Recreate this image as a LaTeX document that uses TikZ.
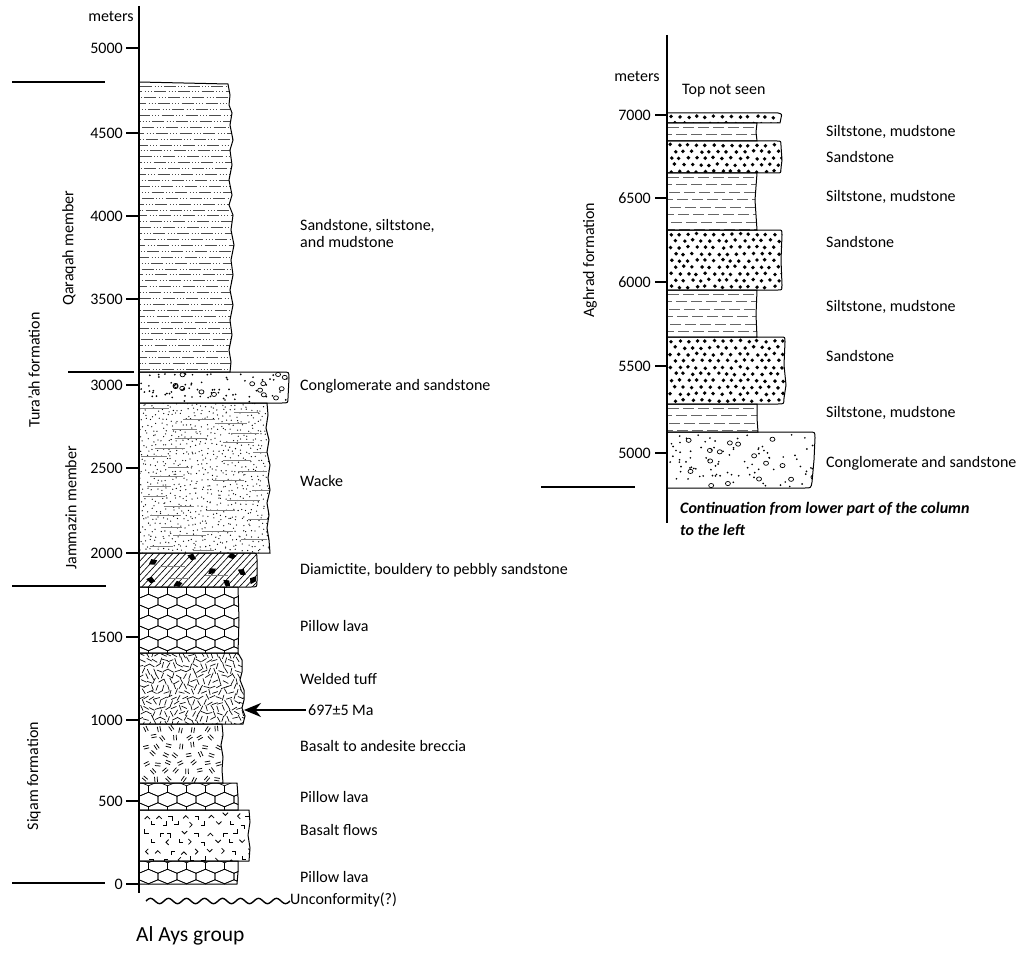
\documentclass[tikz,border=0pt]{standalone}
\usepackage{fontspec}
\setmainfont{Carlito}
\usetikzlibrary{arrows.meta}
\newcommand\pillowpat[4]{% x0, y0, ncols, nrows
 \foreach \j in {0,...,#4}{
   \pgfmathsetmacro\cy{#2+\j*10.5}
   \pgfmathsetmacro\off{mod(\j,2)*9.5}
   \foreach \i in {-1,...,#3}{
     \pgfmathsetmacro\cx{#1+\i*19+\off}
     \draw[pat] (\cx,\cy-7.25) -- (\cx+9.5,\cy-3.25) -- (\cx+9.5,\cy+3.25) -- (\cx,\cy+7.25) -- (\cx-9.5,\cy+3.25) -- (\cx-9.5,\cy-3.25) -- cycle;
   }}}
\newcommand\bolddots[4]{% x0,y0,nx,ny
 \foreach \j in {0,...,#4}{\foreach \i in {0,...,#3}{
   \pgfmathsetmacro\px{#1+\i*8.6+mod(\j,2)*4.3+(rnd-0.5)*2.2}
   \pgfmathsetmacro\py{#2+\j*6.6+(rnd-0.5)*1.8}
   \fill (\px,\py) circle[radius=1.95];
 }}}
\newcommand\siltlines[2]{% y0, nrows
 \foreach \j in {0,...,#2}{
   \pgfmathsetmacro\py{#1+\j*7.5}
   \pgfmathsetmacro\ph{mod(\j*7,15)}
   \draw[gray!80!black, line width=0.8pt, dash pattern=on 11pt off 4pt, dash phase=\ph pt] (668,\py) -- (762,\py);
 }}
\newcommand\congl[6]{% x0,y0,w,h,ndots,ncirc
 \foreach \k in {1,...,#5}{
   \pgfmathsetmacro\px{#1+rnd*#3}
   \pgfmathsetmacro\py{#2+rnd*#4}
   \fill (\px,\py) circle[radius=0.95];
 }
 \foreach \k in {1,...,#6}{
   \pgfmathsetmacro\px{#1+rnd*#3}
   \pgfmathsetmacro\py{#2+rnd*#4}
   \draw[line width=0.7pt] (\px,\py) ellipse[x radius=2.5, y radius=2.1];
 }}
\newcommand\blob[3]{\fill[shift={(#1,#2)},rotate=#3] (-4.8,0) -- (0,-3.4) -- (4.5,0.6) -- (0.3,3.2) -- cycle;}
\begin{document}
\begin{tikzpicture}[x=1pt,y=-1pt,
  axisline/.style={line width=2pt},
  tickmark/.style={line width=1.8pt},
  divline/.style={line width=1.5pt},
  layer/.style={line width=1pt},
  pat/.style={line width=0.65pt},
  lbl/.style={anchor=west,inner sep=0pt,font=\fontsize{16}{18}\selectfont},
  ticklbl/.style={anchor=east,inner sep=0pt,font=\fontsize{16}{18}\selectfont},
  vlbl/.style={rotate=90,inner sep=0pt,font=\fontsize{16}{18}\selectfont},
]
\useasboundingbox (0,0) rectangle (1024,952);
\pgfmathsetseed{4242}

% ---------------- left column layers ----------------
\def\LQ{(139,82) -- (228,84) -- (230,95) -- (229,105) -- (232,113) -- (230,125) -- (233,140) -- (230,150) -- (232,165) -- (229,180) -- (232,195) -- (229,205) -- (233,215) -- (231,230) -- (234,245) -- (231,260) -- (233,275) -- (230,290) -- (233,305) -- (230,320) -- (232,335) -- (229,350) -- (231,362) -- (230,372) -- (139,372) -- cycle}
\def\LC{(139,372) -- (283,372) .. controls (289,372) .. (289,378) -- (288,398) .. controls (288,403) .. (282,403) -- (139,403) -- cycle}
\def\LW{(139,403) -- (267,403) -- (268,415) -- (266,428) -- (269,440) -- (267,452) -- (270,465) -- (268,478) -- (270,490) -- (267,503) -- (269,515) -- (267,528) -- (269,540) -- (270,553) -- (139,553) -- cycle}
\def\LD{(139,553) -- (251,553) .. controls (257,553) .. (257,559) -- (257,581) .. controls (257,587) .. (251,587) -- (139,587) -- cycle}
\def\LPa{(139,587) -- (238,587) -- (239,620) -- (238,653) -- (139,653) -- cycle}
\def\LT{(139,653) -- (238,653) -- (242,660) -- (242,672) -- (240,680) -- (244,690) -- (244,700) -- (242,708) -- (245,716) -- (243,724) -- (139,724) -- cycle}
\def\LB{(139,724) -- (222,724) -- (223,735) -- (221,745) -- (223,757) -- (222,770) -- (223,783) -- (139,783) -- cycle}
\def\LPb{(139,783) -- (237,783) -- (238,797) -- (238,810) -- (139,810) -- cycle}
\def\LF{(139,810) -- (249,810) -- (250,822) -- (248,835) -- (250,848) -- (249,861) -- (139,861) -- cycle}
\def\LPc{(139,861) -- (238,861) -- (238,872) -- (237,884) -- (139,884) -- cycle}

% Qaraqah
\begin{scope}
\clip \LQ;
\foreach \j in {0,...,48}{
  \pgfmathsetmacro\py{86+\j*5.9}
  \pgfmathsetmacro\ph{mod(\j*9.7,23.2)}
  \draw[line width=0.8pt, gray!60!black, dash pattern=on 12pt off 2.5pt on 0.8pt off 2.2pt on 0.8pt off 2.2pt on 0.8pt off 2.5pt, dash phase=\ph pt] (140,\py) -- (236,\py);
}
\end{scope}
\draw[layer] \LQ;

% Conglomerate
\begin{scope}
\clip \LC;
\congl{141}{374}{146}{28}{70}{14}
\end{scope}
\draw[layer] \LC;

% Wacke
\begin{scope}
\clip \LW;
\foreach \i in {0,...,26}{\foreach \j in {0,...,30}{
  \pgfmathsetmacro\px{142+\i*5+(rnd-0.5)*4.5}
  \pgfmathsetmacro\py{405+\j*5+(rnd-0.5)*4.5}
  \fill (\px,\py) circle[radius=0.65];
}}
\foreach \j in {0,...,14}{
  \pgfmathsetmacro\py{409+\j*9.8+(rnd-0.5)*3}
  \pgfmathsetmacro\pxa{139+rnd*45}
  \pgfmathsetmacro\pxb{190+rnd*70}
  \pgfmathsetmacro\la{20+rnd*14}
  \pgfmathsetmacro\lb{20+rnd*14}
  \draw[gray,line width=0.9pt] (\pxa,\py) -- ++(\la,0);
  \draw[gray,line width=0.9pt] (\pxb,\py+4) -- ++(\lb,0);
}
\end{scope}
\draw[layer] \LW;

% Diamictite
\begin{scope}
\clip \LD;
\foreach \k in {-6,...,20}{ \draw[pat] ({139+\k*6.5},590) -- ({139+\k*6.5+37},550); }
\draw[gray,line width=0.8pt] (160,566) -- (185,566) (205,575) -- (228,575) (170,578) -- (190,578);
\blob{153}{562}{30}
\blob{192}{557}{-20}
\blob{232}{556}{10}
\blob{212}{571}{40}
\blob{242}{572}{-30}
\blob{151}{580}{-10}
\blob{178}{584}{20}
\blob{227}{583}{-40}
\blob{253}{580}{60}
\end{scope}
\draw[layer] \LD;

% Pillow lava 1
\begin{scope}
\clip \LPa;
\pillowpat{139}{591}{6}{6}
\end{scope}
\draw[layer] \LPa;

% Welded tuff
\begin{scope}
\clip \LT;
\foreach \i in {0,...,19}{\foreach \j in {0,...,13}{
  \pgfmathsetmacro\px{141+\i*5.5+mod(\j,2)*2.7+(rnd-0.5)*2}
  \pgfmathsetmacro\py{655+\j*5.3+(rnd-0.5)*2}
  \pgfmathsetmacro\an{int(rnd*4)*45+22+(rnd-0.5)*20}
  \draw[pat] (\px,\py) ++(\an:-3) -- ++(\an:6);
}}
\end{scope}
\draw[layer] \LT;

% Breccia
\begin{scope}
\clip \LB;
\foreach \i in {0,...,6}{\foreach \j in {0,...,6}{
  \pgfmathsetmacro\px{146+\i*12+mod(\j,2)*6+(rnd-0.5)*4}
  \pgfmathsetmacro\py{729+\j*8.5+(rnd-0.5)*3}
  \pgfmathsetmacro\an{rnd*180}
  \draw[line width=0.75pt] (\px,\py) ++(\an+90:1.3) ++(\an:-2.7) -- ++(\an:5.4);
  \draw[line width=0.75pt] (\px,\py) ++(\an+90:-1.3) ++(\an:-2.7) -- ++(\an:5.4);
}}
\end{scope}
\draw[layer] \LB;

% Pillow lava 2
\begin{scope}
\clip \LPb;
\pillowpat{139}{789}{6}{2}
\end{scope}
\draw[layer] \LPb;

% Basalt flows
\begin{scope}
\clip \LF;
\foreach \i in {0,...,8}{\foreach \j in {0,...,5}{
  \pgfmathsetmacro\px{146+\i*13+mod(\j,2)*6.5+(rnd-0.5)*3}
  \pgfmathsetmacro\py{816+\j*8.8+(rnd-0.5)*1.5}
  \pgfmathsetmacro\an{int(rnd*8)*45}
  \draw[line width=0.8pt] (\px,\py) ++(\an+45:3.8) -- (\px,\py) -- ++(\an-45:3.8);
}}
\end{scope}
\draw[layer] \LF;

% Pillow lava 3
\begin{scope}
\clip \LPc;
\pillowpat{139}{866}{6}{2}
\end{scope}
\draw[layer] \LPc;

% ---------------- left axis ----------------
\draw[axisline] (139,6) -- (139,893);
\node[inner sep=0pt,font=\fontsize{16}{18}\selectfont] (mL) at (111,17) {meters};
\foreach \v/\yy in {5000/48,4500/133,4000/216,3500/299,3000/385,2500/468,2000/553,1500/637,1000/720,500/801,0/884}{
  \node[ticklbl] (tl\v) at (123,\yy) {\v};
  \draw[tickmark] (126,\yy) -- (139,\yy);
}
\draw[divline] (12,82) -- (105,82);
\draw[divline] (68,372) -- (134,372);
\draw[divline] (12,586) -- (106,586);
\draw[divline] (12,883) -- (105,883);

\node[vlbl] (qm) at (69,248) {Qaraqah member};
\node[vlbl] (tf) at (34,370) {Tura’ah formation};
\node[vlbl] (jm) at (71,508) {Jammazin member};
\node[vlbl] (sf) at (34,776) {Siqam formation};

% labels
\node[lbl] (l1a) at (300,226) {Sandstone, siltstone,};
\node[lbl] (l1b) at (300,242) {and mudstone};
\node[lbl] (l2) at (300,386) {Conglomerate and sandstone};
\node[lbl] (l3) at (300,481) {Wacke};
\node[lbl] (l4) at (300,570) {Diamictite, bouldery to pebbly sandstone};
\node[lbl] (l5) at (300,626) {Pillow lava};
\node[lbl] (l6) at (300,679) {Welded tuff};
\node[lbl] (age) at (308,710) {697±5 Ma};
\node[lbl] (l7) at (300,746) {Basalt to andesite breccia};
\node[lbl] (l8) at (300,797) {Pillow lava};
\node[lbl] (l9) at (300,830) {Basalt flows};
\node[lbl] (l10) at (300,877) {Pillow lava};
\node[lbl] (unc) at (290,900) {Unconformity(?)};
\node[anchor=west,inner sep=0pt,font=\fontsize{21.5}{24}\selectfont] (grp) at (136,936) {Al Ays group};

\coordinate (agetip) at (244,710);
\draw[line width=1.5pt,-{Stealth[length=17pt,width=14pt]}] (age.west) ++(-2,0) -- (agetip);

\draw[line width=1.4pt] plot[domain=146:290,samples=160,smooth] (\x,{901-2.6*sin(20*(\x-146))});

% ---------------- right column ----------------
\def\RA{(667,113) -- (778,113) .. controls (782,114) .. (781,118) -- (780,123) -- (667,123) -- cycle}
\def\RB{(667,123) -- (757,123) -- (756,132) -- (757,141) -- (667,141) -- cycle}
\def\RC{(667,141) -- (777,141) .. controls (781,141) .. (781,146) -- (782,160) -- (781,168) .. controls (781,173) .. (777,173) -- (667,173) -- cycle}
\def\RD{(667,173) -- (757,173) -- (755,200) -- (757,230) -- (667,230) -- cycle}
\def\RE{(667,230) -- (778,230) .. controls (782,230) .. (782,235) -- (781,260) -- (782,285) .. controls (782,290) .. (778,290) -- (667,290) -- cycle}
\def\RF{(667,290) -- (757,290) -- (756,315) -- (757,337) -- (667,337) -- cycle}
\def\RG{(667,337) -- (781,337) .. controls (785,337) .. (785,342) -- (784,365) -- (786,385) -- (784,398) .. controls (784,404) .. (778,404) -- (667,404) -- cycle}
\def\RH{(667,404) -- (757,404) -- (757,418) -- (758,432) -- (667,432) -- cycle}
\def\RI{(667,432) -- (809,432) .. controls (815,432) .. (815,438) -- (814,460) -- (812,482) .. controls (811,488) .. (805,488) -- (667,488) -- cycle}

\begin{scope}\clip \RA; \bolddots{671}{117}{14}{1} \end{scope}
\draw[layer] \RA;
\begin{scope}\clip \RB; \siltlines{127}{2} \end{scope}
\draw[layer] \RB;
\begin{scope}\clip \RC; \bolddots{671}{145}{14}{4} \end{scope}
\draw[layer] \RC;
\begin{scope}\clip \RD; \siltlines{177}{7} \end{scope}
\draw[layer] \RD;
\begin{scope}\clip \RE; \bolddots{671}{234}{14}{9} \end{scope}
\draw[layer] \RE;
\begin{scope}\clip \RF; \siltlines{294}{6} \end{scope}
\draw[layer] \RF;
\begin{scope}\clip \RG; \bolddots{671}{341}{14}{10} \end{scope}
\draw[layer] \RG;
\begin{scope}\clip \RH; \siltlines{408}{3} \end{scope}
\draw[layer] \RH;
\begin{scope}\clip \RI; \congl{669}{434}{145}{53}{85}{16} \end{scope}
\draw[layer] \RI;

\draw[axisline] (667,35) -- (667,523);
\node[inner sep=0pt,font=\fontsize{16}{18}\selectfont] (mR) at (637,77) {meters};
\node[anchor=west,inner sep=0pt,font=\fontsize{16}{18}\selectfont] (tns) at (682,91) {Top not seen};
\foreach \v/\yy in {7000/115,6500/198,6000/282,5500/366,5000/453}{
  \node[ticklbl] (tr\v) at (651,\yy) {\v};
  \draw[tickmark] (655,\yy) -- (667,\yy);
}
\draw[divline] (541,487) -- (635,487);
\node[vlbl] (af) at (590,260) {Aghrad formation};

\node[lbl] (r1) at (826,132) {Siltstone, mudstone};
\node[lbl] (r2) at (826,157) {Sandstone};
\node[lbl] (r3) at (826,197) {Siltstone, mudstone};
\node[lbl] (r4) at (826,242) {Sandstone};
\node[lbl] (r5) at (826,307) {Siltstone, mudstone};
\node[lbl] (r6) at (826,356) {Sandstone};
\node[lbl] (r7) at (826,413) {Siltstone, mudstone};
\node[lbl] (r8) at (826,463) {Conglomerate and sandstone};
\node[lbl,font=\fontsize{16}{18}\selectfont\bfseries\itshape] (cont1) at (680,509) {Continuation from lower part of the column};
\node[lbl,font=\fontsize{16}{18}\selectfont\bfseries\itshape] (cont2) at (680,530) {to the left};
\end{tikzpicture}
\end{document}
